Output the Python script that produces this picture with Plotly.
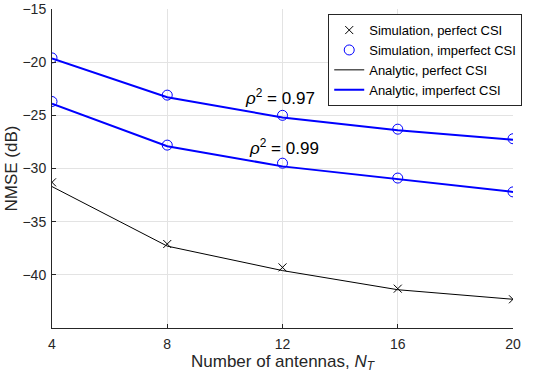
import plotly.graph_objects as go

n_antennas = [4, 8, 12, 16, 20]

sim_perfect = [-31.3, -37.1, -39.3, -41.3, -42.3]
sim_imperfect_097 = [-19.6, -23.1, -25.0, -26.3, -27.2]
sim_imperfect_099 = [-23.7, -27.8, -29.5, -30.9, -32.2]

ana_perfect = [-31.7, -37.3, -39.6, -41.4, -42.3]
ana_imperfect_097 = [-19.65, -23.3, -25.2, -26.4, -27.3]
ana_imperfect_099 = [-23.9, -27.9, -29.8, -31.0, -32.2]

xticks = [4, 8, 12, 16, 20]
yticks = [-40, -35, -30, -25, -20, -15]

FONT = "Liberation Sans, Arial, Helvetica, sans-serif"
BLUE = "#0000ff"

fig = go.Figure()

fig.add_trace(go.Scatter(x=n_antennas, y=ana_perfect, mode="lines",
                         line=dict(color="black", width=1),
                         name="Analytic, perfect CSI", showlegend=False))
fig.add_trace(go.Scatter(x=n_antennas, y=ana_imperfect_097, mode="lines",
                         line=dict(color=BLUE, width=2),
                         name="Analytic, imperfect CSI", showlegend=False))
fig.add_trace(go.Scatter(x=n_antennas, y=ana_imperfect_099, mode="lines",
                         line=dict(color=BLUE, width=2),
                         name="Analytic, imperfect CSI", showlegend=False))

fig.add_trace(go.Scatter(x=n_antennas, y=sim_perfect, mode="markers",
                         marker=dict(symbol="x-thin-open", size=8, color="black",
                                     line=dict(color="black", width=1)),
                         name="Simulation, perfect CSI"))
fig.add_trace(go.Scatter(x=n_antennas, y=sim_imperfect_097, mode="markers",
                         marker=dict(symbol="circle-open", size=10, color=BLUE,
                                     line=dict(color=BLUE, width=1)),
                         name="Simulation, imperfect CSI"))
fig.add_trace(go.Scatter(x=n_antennas, y=sim_imperfect_099, mode="markers",
                         marker=dict(symbol="circle-open", size=10, color=BLUE,
                                     line=dict(color=BLUE, width=1)),
                         name="Simulation, imperfect CSI", showlegend=False))

fig.add_trace(go.Scatter(x=[None], y=[None], mode="lines",
                         line=dict(color="black", width=1),
                         name="Analytic, perfect CSI"))
fig.add_trace(go.Scatter(x=[None], y=[None], mode="lines",
                         line=dict(color=BLUE, width=2),
                         name="Analytic, imperfect CSI"))

fig.add_annotation(x=10.62, y=-23.3, text="<i>ρ</i><sup>2</sup> = 0.97",
                   showarrow=False, xanchor="left", yanchor="middle",
                   font=dict(family=FONT, size=17, color="black"))
fig.add_annotation(x=10.76, y=-28.0, text="<i>ρ</i><sup>2</sup> = 0.99",
                   showarrow=False, xanchor="left", yanchor="middle",
                   font=dict(family=FONT, size=17, color="black"))

axis_common = dict(showgrid=True, gridcolor="#e3e3e3", gridwidth=1,
                   showline=True, linecolor="#262626", linewidth=1,
                   ticks="inside", ticklen=4, tickcolor="#262626",
                   tickfont=dict(family=FONT, size=14, color="#262626"),
                   zeroline=False, mirror=False, automargin=False,
                   ticklabeloverflow="allow")

fig.update_xaxes(range=[4, 20], tickvals=xticks, ticklabelstandoff=3,
                 title=dict(text="Number of antennas, <i>N</i><sub><i>T</i></sub>",
                            font=dict(family=FONT, size=17, color="#262626"),
                            standoff=2),
                 **axis_common)
fig.update_yaxes(range=[-45, -15], tickvals=yticks, ticklabelstandoff=2,
                 title=dict(text="NMSE (dB)",
                            font=dict(family=FONT, size=17, color="#262626"),
                            standoff=0),
                 **axis_common)

fig.update_layout(
    width=537, height=377,
    margin=dict(l=52, r=24, t=9, b=49),
    plot_bgcolor="white", paper_bgcolor="white",
    font=dict(family=FONT, size=14, color="#262626"),
    legend=dict(x=1.02, y=0.984, xanchor="right", yanchor="top",
                bgcolor="white", bordercolor="#262626", borderwidth=1,
                font=dict(family=FONT, size=13, color="black"),
                tracegroupgap=0, itemwidth=30),
)

fig.write_html("out.html", config={"displayModeBar": False},
               post_script="document.body.style.margin='0px';")
